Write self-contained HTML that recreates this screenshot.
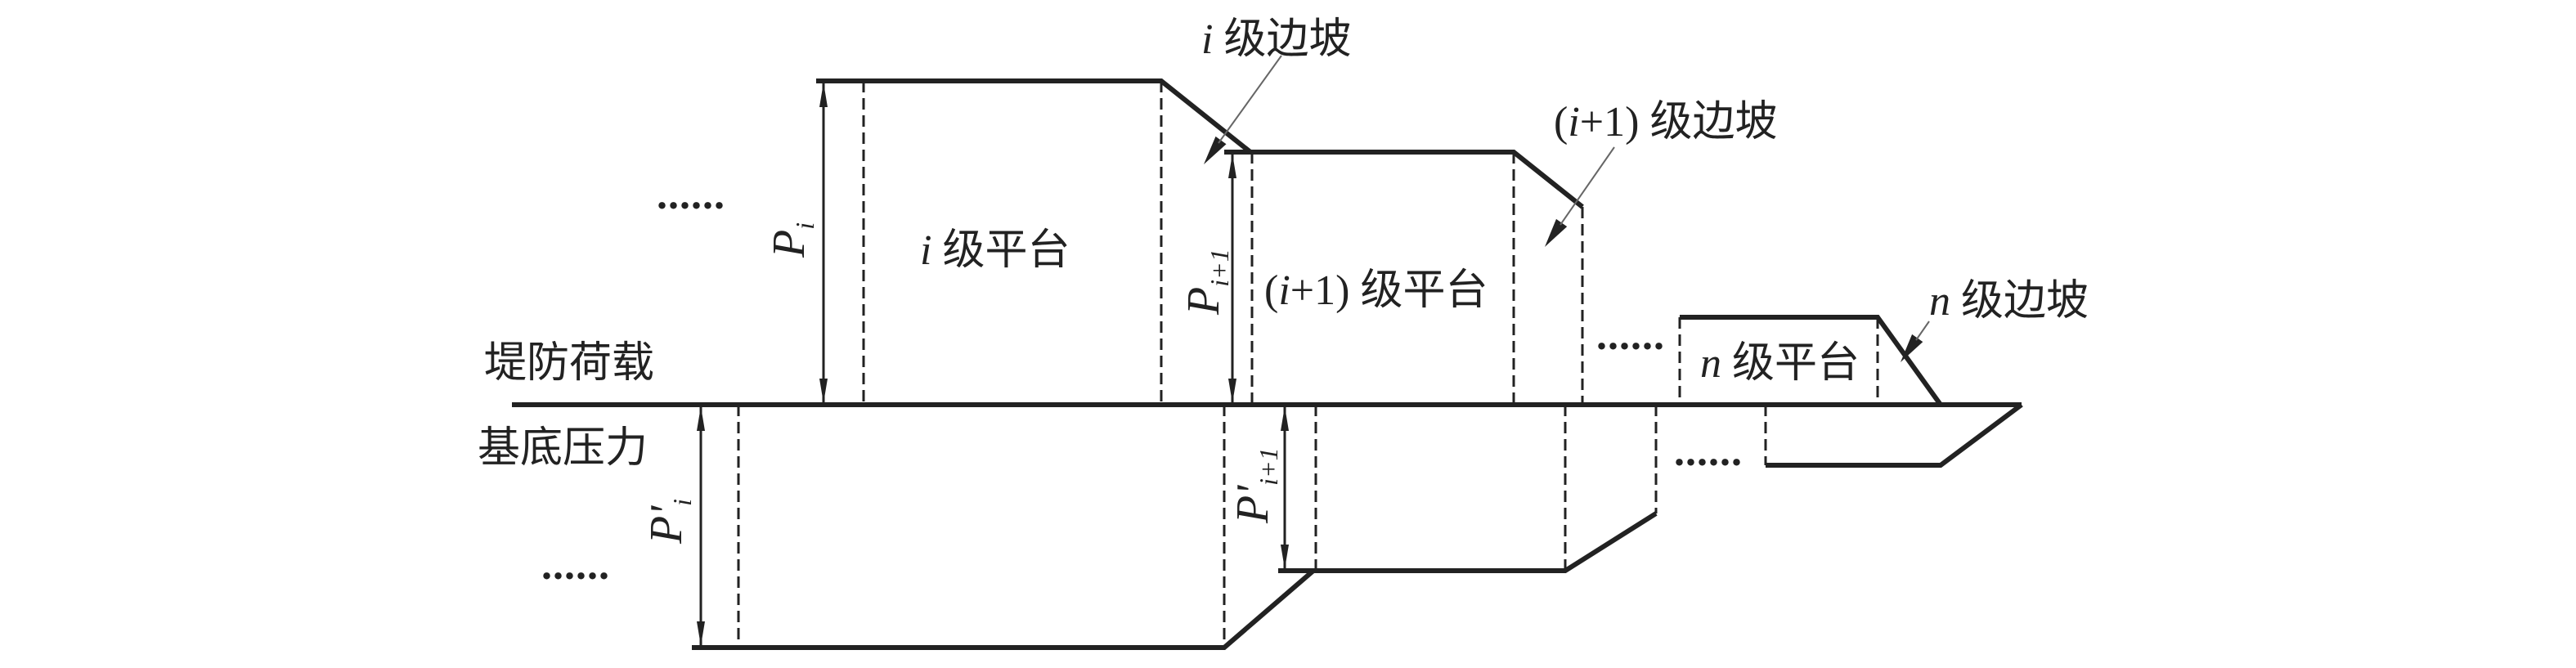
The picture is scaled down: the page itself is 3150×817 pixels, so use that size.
<!DOCTYPE html>
<html><head><meta charset="utf-8"><style>
html,body{margin:0;padding:0;background:#fff;}
svg{display:block;}
text{font-family:"Liberation Serif","Noto Serif CJK SC",serif;fill:#222;}
.cjk{font-family:"Liberation Serif","Noto Sans CJK SC",sans-serif;}
</style></head><body>
<svg width="3150" height="817" viewBox="0 0 3150 817" xmlns="http://www.w3.org/2000/svg">
<g fill="none" stroke="#222" stroke-width="6" stroke-linejoin="miter">
<line x1="626" y1="495" x2="2472" y2="495"/>
<polyline points="998,99 1420,99 1529,186 1497,186"/>
<polyline points="1529,186 1851,186 1935,253"/>
<polyline points="2054,388 2296,388 2373,495"/>
<polyline points="846,792 1497,792 1606,698 1563,698"/>
<polyline points="1606,698 1914,698 2025,628"/>
<polyline points="2159,569 2373,569 2472,495"/>
</g>
<g fill="none" stroke="#222" stroke-width="3" stroke-dasharray="14,7">
<line x1="1056" y1="99" x2="1056" y2="495"/>
<line x1="1420" y1="99" x2="1420" y2="495"/>
<line x1="1531" y1="186" x2="1531" y2="495"/>
<line x1="1851" y1="186" x2="1851" y2="495"/>
<line x1="1935" y1="253" x2="1935" y2="495"/>
<line x1="2054" y1="388" x2="2054" y2="495"/>
<line x1="2296" y1="388" x2="2296" y2="495"/>
<line x1="903" y1="495" x2="903" y2="792"/>
<line x1="1497" y1="495" x2="1497" y2="792"/>
<line x1="1609" y1="495" x2="1609" y2="698"/>
<line x1="1914" y1="495" x2="1914" y2="698"/>
<line x1="2025" y1="495" x2="2025" y2="628"/>
<line x1="2159" y1="495" x2="2159" y2="569"/>
</g>
<g stroke="#222" stroke-width="3">
<line x1="998" y1="99" x2="1056" y2="99"/>
<line x1="1007" y1="99" x2="1007" y2="495"/>
<line x1="1507" y1="186" x2="1507" y2="495"/>
<line x1="857" y1="495" x2="857" y2="792"/>
<line x1="1571" y1="495" x2="1571" y2="698"/>
</g>
<g fill="#222">
<polygon points="1007,101 1002,131 1012,131"/><polygon points="1007,493 1002,463 1012,463"/>
<polygon points="1507,188 1502,218 1512,218"/><polygon points="1507,493 1502,463 1512,463"/>
<polygon points="857,497 852,527 862,527"/><polygon points="857,790 852,760 862,760"/>
<polygon points="1571,497 1566,527 1576,527"/><polygon points="1571,696 1566,666 1576,666"/>
<polygon points="1472,201 1499.5,176.3 1486.5,166.9"/>
<polygon points="1889,302 1916.2,277.1 1903,267.9"/>
<polygon points="2324,443 2351.3,418.1 2338.1,408.9"/>
</g>
<g stroke="#666" stroke-width="2">
<line x1="1567" y1="68" x2="1490" y2="175"/>
<line x1="1974" y1="180" x2="1908" y2="275"/>
<line x1="2359" y1="393" x2="2343" y2="416"/>
</g>
<g fill="#222" font-weight="bold">
<text x="803" y="255" font-size="52" letter-spacing="1">......</text>
<text x="662" y="708" font-size="52" letter-spacing="1">......</text>
<text x="1952" y="427" font-size="52" letter-spacing="1">......</text>
<text x="2047" y="569" font-size="52" letter-spacing="1">......</text>
</g>
<text class="cjk" x="592" y="461" font-size="52">堤防荷载</text>
<text class="cjk" x="584" y="565" font-size="52">基底压力</text>
<text x="1125" y="323" font-size="52"><tspan font-style="italic">i</tspan><tspan class="cjk"> 级平台</tspan></text>
<text x="1469" y="65" font-size="52"><tspan font-style="italic">i</tspan><tspan class="cjk"> 级边坡</tspan></text>
<text x="1546" y="372" font-size="52">(<tspan font-style="italic">i</tspan>+1)<tspan class="cjk"> 级平台</tspan></text>
<text x="1900" y="166" font-size="52">(<tspan font-style="italic">i</tspan>+1)<tspan class="cjk"> 级边坡</tspan></text>
<text x="2079" y="461" font-size="52"><tspan font-style="italic">n</tspan><tspan class="cjk"> 级平台</tspan></text>
<text x="2359" y="385" font-size="52"><tspan font-style="italic">n</tspan><tspan class="cjk"> 级边坡</tspan></text>
<g font-style="italic">
<text transform="translate(983,315) rotate(-90)" font-size="56">P<tspan font-size="32" dy="12">i</tspan></text>
<text transform="translate(1490,385) rotate(-90)" font-size="56">P<tspan font-size="32" dy="12">i+1</tspan></text>
<text transform="translate(833,665) rotate(-90)" font-size="56">P'<tspan font-size="32" dy="12">i</tspan></text>
<text transform="translate(1550,640) rotate(-90)" font-size="56">P'<tspan font-size="32" dy="12">i+1</tspan></text>
</g>
</svg>
</body></html>
